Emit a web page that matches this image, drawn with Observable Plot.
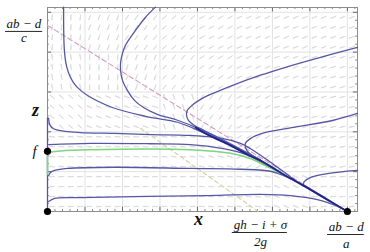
<!DOCTYPE html>
<html><head><meta charset="utf-8">
<script src="https://cdn.jsdelivr.net/npm/d3@7"></script>
<script src="https://cdn.jsdelivr.net/npm/@observablehq/plot@0.6"></script>
<style>body{margin:0;background:#fff;}</style>
</head><body><div id="chart"></div>
<script>
// ---- axis extents and key values ----
const xMax = 8.27, zMax = 5.12;
const xTicks = [1,2,3,4,5,6,7,8];
const zTicks = [1,2,3,4,5];
const saddleX = 8.0;        // (ab − d)/a
const pinkZ0 = 4.67;        // (ab − d)/c
const fValue = 1.51;        // f
const yellowStart = [2.48, 2.09];
const yellowEndX = 5.62;    // (gh − i + σ)/2g

// ---- direction field: angle (deg, + = rising right) per unit cell, rows top→bottom (z 4–5 … 0–1), cols x 0–1 … 8+ ----
const fieldAngles = [
  [ 85, 70, 55, 40, 30, 25, 22, 20, 20],
  [-80, 88, 70, 50, 33, 25, 20, 17, 16],
  [-40,-22,-20,-70, 55, 28, 16, 13, 12],
  [ -4, -3, -3, -6,-15, 30, 15, 12, 10],
  [  2,  1,  0,  0, -3, -8,-20,  5,  8]
];

// ---- trajectories [x, z] ----
const axisBlue = [[0,2.34],[0,0]];
const axisGreen = [[0,1.51],[0,0.93]];
const trajU1 = [[0.43,5.13],[0.45,4.05],[0.51,3.64],[0.61,3.37],[0.77,3.14],[1.07,2.91],[1.73,2.61],[2.61,2.39],[3.47,2.24],[4.08,2.01],[4.88,1.66],[5.68,1.28]];
const trajU2 = [[2.88,5.13],[2.61,4.87],[2.29,4.47],[2.08,4.17],[2.0,3.97],[1.95,3.74],[1.95,3.54],[2.0,3.29],[2.13,3.04],[2.32,2.79],[2.56,2.61],[2.93,2.44],[3.47,2.29],[4.08,2.06],[4.88,1.68],[5.68,1.29]];
const trajU4 = [[8.27,4.12],[7.28,3.87],[6.35,3.62],[5.68,3.42],[5.01,3.19],[4.48,2.99],[4.13,2.84],[3.89,2.69],[3.73,2.54],[3.71,2.41],[3.76,2.29],[3.92,2.16],[4.21,2.02],[4.88,1.7],[5.68,1.3]];
const trajU6 = [[8.27,2.46],[7.63,2.29],[6.56,2.11],[5.73,1.96],[5.41,1.83],[5.28,1.71],[5.28,1.61],[5.36,1.48],[5.5,1.38],[5.68,1.29],[6.21,0.99]];
const trajU5 = [[8.27,1.03],[7.47,0.95],[7.01,0.85],[6.85,0.75],[6.83,0.68],[6.95,0.6],[7.41,0.34]];
const trajA = [[0.03,2.34],[0.05,2.21],[0.11,2.11],[0.27,2.04],[0.88,1.98],[1.79,1.96],[2.75,1.93],[3.81,1.91],[4.69,1.83],[5.15,1.71],[5.41,1.58],[5.76,1.36],[6.21,1.06],[6.61,0.78],[6.83,0.65]];
const trajB = [[0.03,1.68],[1.15,1.71],[2.75,1.70],[3.81,1.68],[4.69,1.58],[5.15,1.48],[5.41,1.38],[5.81,1.18],[6.21,0.98]];
const trajGreen = [[0.03,1.48],[0.35,1.52],[1.15,1.55],[3.81,1.55],[4.88,1.46],[5.41,1.33],[5.81,1.15],[6.21,0.96]];
const trajC = [[0.03,0.9],[0.08,0.98],[0.19,1.03],[0.53,1.08],[1.79,1.11],[3.81,1.08],[5.15,1.06],[5.95,1.01],[6.3,0.9],[6.6,0.76],[6.83,0.64],[7.41,0.32],[8.0,0]];
const trajD = [[0.03,0.25],[0.19,0.33],[0.88,0.35],[4.27,0.4],[5.68,0.43],[6.48,0.4],[7.28,0.28],[7.68,0.15],[8.0,0]];
const attractor = [[3.95,2.11],[4.27,1.93],[4.88,1.66],[5.33,1.43],[5.68,1.28],[6.21,0.98],[6.83,0.65],[7.41,0.33],[8.0,0]];

const blueTrajs = [axisBlue, trajU1, trajU2, trajU4, trajU6, trajU5, trajA, trajB, trajC, trajD];
const points = [[0,0],[0,fValue],[saddleX,0]];

// ---- build field table ----
const field = [];
for (let j = 0; j < 20; j++) for (let i = 0; i < 33; i++) {
  const x = 0.125 + 0.25*i, z = 0.125 + 0.25*j;
  const col = Math.min(8, Math.floor(x)), row = 4 - Math.min(4, Math.floor(z));
  field.push({x, z, a: fieldAngles[row][col]});
}
const minorX = d3.range(0.2, xMax, 0.2).filter(v => Math.abs(v - Math.round(v)) > 0.01);
const minorZ = d3.range(0.2, zMax, 0.2).filter(v => Math.abs(v - Math.round(v)) > 0.01);

const serif = "Liberation Serif";
const lab = (data, o) => Plot.text(data, Object.assign({x: d => d[0], y: d => d[1], text: d => d[2], fontFamily: serif, fontStyle: "italic", fontSize: 13, fill: "#111", textAnchor: "middle", lineAnchor: "middle"}, o));

const blueLines = blueTrajs.map(t => Plot.line(t, {x: d => d[0], y: d => d[1], stroke: "#5557a6", strokeWidth: 1.3, curve: "catmull-rom"}));

const chart = Plot.plot({
  width: 370, height: 252,
  marginLeft: 47, marginRight: 13, marginTop: 7, marginBottom: 41,
  x: {domain: [0, xMax], axis: null},
  y: {domain: [0, zMax], axis: null},
  style: {background: "#fff", overflow: "visible"},
  marks: [
    Plot.ruleX(xTicks, {stroke: "#e2e2e2", strokeWidth: 1}),
    Plot.ruleY(zTicks, {stroke: "#e2e2e2", strokeWidth: 1}),
    Plot.vector(field, {x: "x", y: "z", length: 5.5, rotate: d => 90 - d.a, anchor: "middle", shape: "spike", r: 0.3, stroke: "#d6d6d6", fill: "#d6d6d6", strokeWidth: 0.6}),
    // ticks (inside, all four sides)
    Plot.ruleX(xTicks, {y1: 0, y2: 0.11, stroke: "#666"}),
    Plot.ruleX(xTicks, {y1: zMax - 0.11, y2: zMax, stroke: "#666"}),
    Plot.ruleY(zTicks, {x1: 0, x2: 0.11, stroke: "#666"}),
    Plot.ruleY(zTicks, {x1: xMax - 0.11, x2: xMax, stroke: "#666"}),
    Plot.ruleX(minorX, {y1: 0, y2: 0.05, stroke: "#888"}),
    Plot.ruleX(minorX, {y1: zMax - 0.05, y2: zMax, stroke: "#888"}),
    Plot.ruleY(minorZ, {x1: 0, x2: 0.05, stroke: "#888"}),
    Plot.ruleY(minorZ, {x1: xMax - 0.05, x2: xMax, stroke: "#888"}),
    Plot.frame({stroke: "#8c8c8c"}),
    // nullclines
    Plot.line([[0, pinkZ0], [saddleX, 0]], {x: d => d[0], y: d => d[1], stroke: "#d69cc0", strokeWidth: 1.1, strokeDasharray: "5,3"}),
    Plot.line([yellowStart, [yellowEndX, 0]], {x: d => d[0], y: d => d[1], stroke: "#d8cf98", strokeWidth: 1.1, strokeDasharray: "4,3"}),
    // trajectories
    ...blueLines,
    Plot.line(axisGreen, {x: d => d[0], y: d => d[1], stroke: "#7fd47f", strokeWidth: 1.6}),
    Plot.line(trajGreen, {x: d => d[0], y: d => d[1], stroke: "#7fd47f", strokeWidth: 1.5, curve: "catmull-rom"}),
    Plot.line(attractor, {x: d => d[0], y: d => d[1], stroke: "#1f2585", strokeWidth: 1.8, curve: "catmull-rom"}),
    Plot.dot(points, {x: d => d[0], y: d => d[1], r: 3.6, fill: "#000"}),
    // labels
    lab([[-0.63, pinkZ0, "ab − d"]], {dy: -2}),
    Plot.ruleY([pinkZ0], {x1: -1.12, x2: -0.13, dy: 6, stroke: "#111", strokeWidth: 0.9}),
    lab([[-0.63, pinkZ0, "c"]], {dy: 12}),
    lab([[0, 2.54, "z"]], {dx: -12, fontSize: 18, fontWeight: "bold"}),
    lab([[0, fValue, "f"]], {dx: -13, fontSize: 15}),
    lab([[4.03, 0, "x"]], {dy: 8, fontSize: 18, fontWeight: "bold"}),
    lab([[5.68, 0, "gh − i + σ"]], {dy: 13}),
    Plot.ruleY([0], {x1: 4.93, x2: 6.4, dy: 21, stroke: "#111", strokeWidth: 0.9}),
    lab([[5.68, 0, "2g"]], {dy: 30}),
    lab([[7.97, 0, "ab − d"]], {dy: 15}),
    Plot.ruleY([0], {x1: 7.47, x2: 8.45, dy: 23, stroke: "#111", strokeWidth: 0.9}),
    lab([[7.97, 0, "a"]], {dy: 32})
  ]
});
document.getElementById("chart").append(chart);
</script>
</body></html>
